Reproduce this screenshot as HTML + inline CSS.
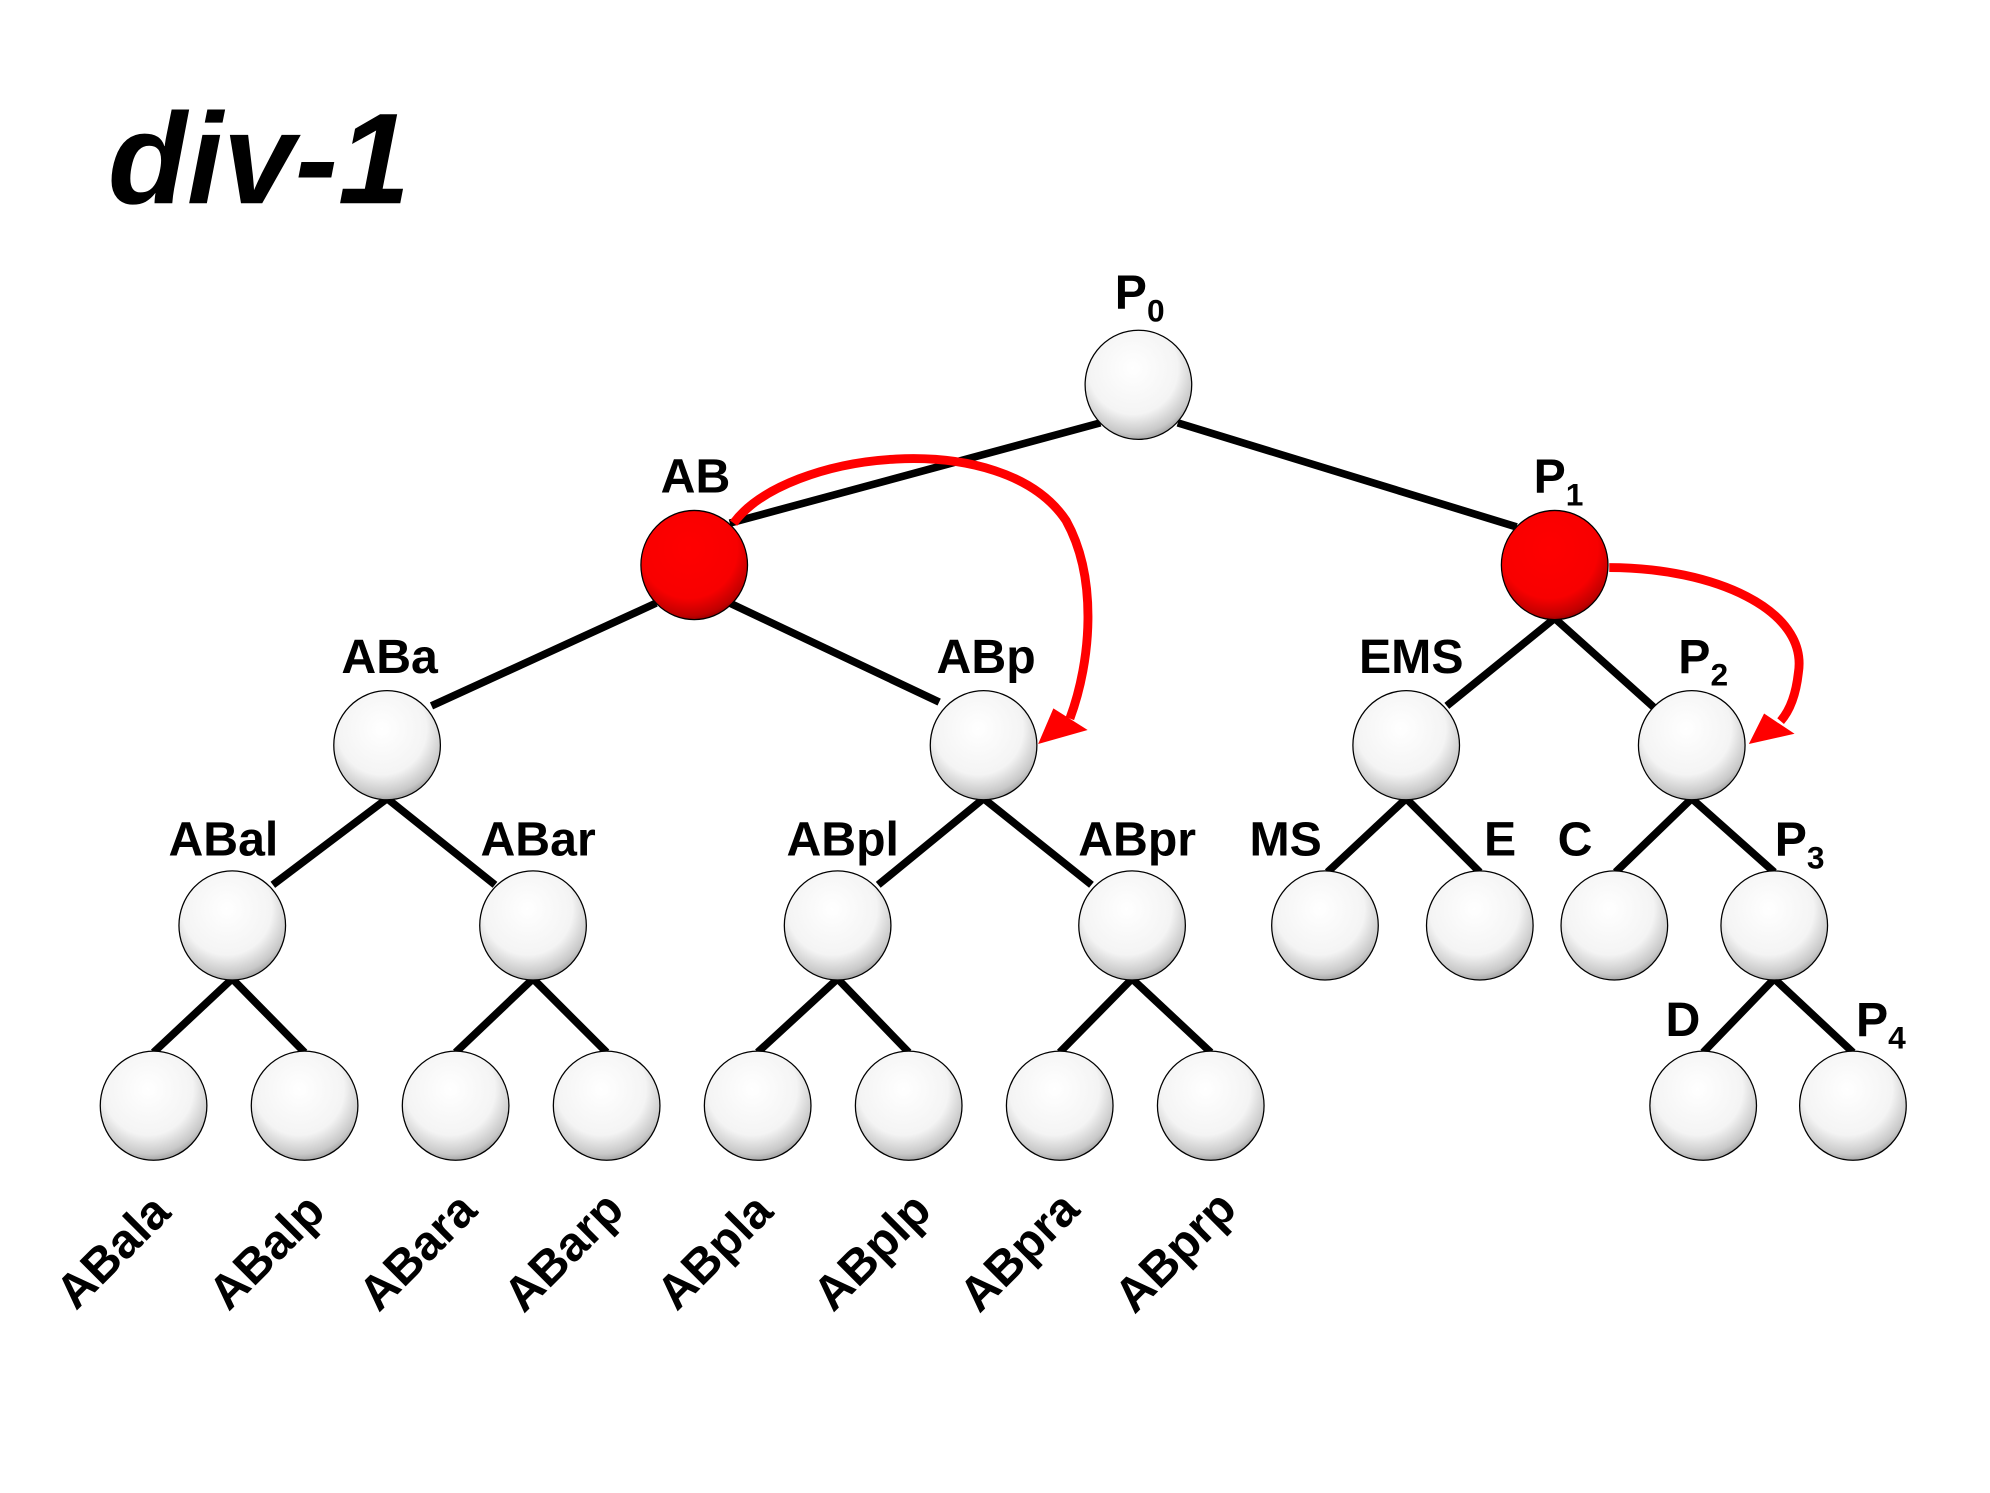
<!DOCTYPE html>
<html><head><style>html,body{margin:0;padding:0;background:#fff}svg{display:block}</style></head>
<body>
<svg width="1990" height="1493" viewBox="0 0 1568 1176" xmlns="http://www.w3.org/2000/svg" font-family="Liberation Sans, Arial, sans-serif" font-weight="bold">
<defs>
<radialGradient id="w" cx="0.45" cy="0.35" r="0.7">
<stop offset="0" stop-color="#ffffff"/><stop offset="0.6" stop-color="#f4f4f4"/><stop offset="0.85" stop-color="#c8c8c8"/><stop offset="1" stop-color="#8a8a8a"/></radialGradient>
<radialGradient id="r" cx="0.45" cy="0.35" r="0.7">
<stop offset="0" stop-color="#ff0000"/><stop offset="0.65" stop-color="#f80000"/><stop offset="0.88" stop-color="#c00000"/><stop offset="1" stop-color="#700000"/></radialGradient>
</defs>
<text x="85" y="160" font-size="102" font-style="italic">div-1</text>
<g stroke="#000" stroke-width="6" fill="none">
<line x1="867" y1="333" x2="575" y2="412"/><line x1="928" y1="333" x2="1195" y2="415"/>
<line x1="517" y1="475" x2="340" y2="556"/><line x1="575" y1="475" x2="740" y2="553"/>
<line x1="1225" y1="487" x2="1140" y2="556"/><line x1="1225" y1="487" x2="1303" y2="557"/>
<line x1="305" y1="629" x2="215" y2="697"/><line x1="305" y1="629" x2="390" y2="697"/>
<line x1="775" y1="629" x2="692" y2="697"/><line x1="775" y1="629" x2="860" y2="697"/>
<line x1="1108" y1="629" x2="1046" y2="687"/><line x1="1108" y1="629" x2="1166" y2="687"/>
<line x1="1333" y1="629" x2="1273" y2="687"/><line x1="1333" y1="629" x2="1398" y2="687"/>
<line x1="183" y1="771" x2="121" y2="829"/><line x1="183" y1="771" x2="240" y2="829"/>
<line x1="420" y1="771" x2="359" y2="829"/><line x1="420" y1="771" x2="478" y2="829"/>
<line x1="660" y1="771" x2="597" y2="829"/><line x1="660" y1="771" x2="716" y2="829"/>
<line x1="892" y1="771" x2="835" y2="829"/><line x1="892" y1="771" x2="954" y2="829"/>
<line x1="1398" y1="771" x2="1342" y2="829"/><line x1="1398" y1="771" x2="1460" y2="829"/>
</g>
<g stroke="#000" stroke-width="1">
<ellipse cx="897" cy="303" rx="42" ry="43" fill="url(#w)"/>
<ellipse cx="547" cy="445" rx="42" ry="43" fill="url(#r)"/>
<ellipse cx="1225" cy="445" rx="42" ry="43" fill="url(#r)"/>
<ellipse cx="305" cy="587" rx="42" ry="43" fill="url(#w)"/>
<ellipse cx="775" cy="587" rx="42" ry="43" fill="url(#w)"/>
<ellipse cx="1108" cy="587" rx="42" ry="43" fill="url(#w)"/>
<ellipse cx="1333" cy="587" rx="42" ry="43" fill="url(#w)"/>
<ellipse cx="183" cy="729" rx="42" ry="43" fill="url(#w)"/>
<ellipse cx="420" cy="729" rx="42" ry="43" fill="url(#w)"/>
<ellipse cx="660" cy="729" rx="42" ry="43" fill="url(#w)"/>
<ellipse cx="892" cy="729" rx="42" ry="43" fill="url(#w)"/>
<ellipse cx="1044" cy="729" rx="42" ry="43" fill="url(#w)"/>
<ellipse cx="1166" cy="729" rx="42" ry="43" fill="url(#w)"/>
<ellipse cx="1272" cy="729" rx="42" ry="43" fill="url(#w)"/>
<ellipse cx="1398" cy="729" rx="42" ry="43" fill="url(#w)"/>
<ellipse cx="121" cy="871" rx="42" ry="43" fill="url(#w)"/>
<ellipse cx="240" cy="871" rx="42" ry="43" fill="url(#w)"/>
<ellipse cx="359" cy="871" rx="42" ry="43" fill="url(#w)"/>
<ellipse cx="478" cy="871" rx="42" ry="43" fill="url(#w)"/>
<ellipse cx="597" cy="871" rx="42" ry="43" fill="url(#w)"/>
<ellipse cx="716" cy="871" rx="42" ry="43" fill="url(#w)"/>
<ellipse cx="835" cy="871" rx="42" ry="43" fill="url(#w)"/>
<ellipse cx="954" cy="871" rx="42" ry="43" fill="url(#w)"/>
<ellipse cx="1342" cy="871" rx="42" ry="43" fill="url(#w)"/>
<ellipse cx="1460" cy="871" rx="42" ry="43" fill="url(#w)"/>
</g>
<g fill="none" stroke="#ff0000" stroke-width="7">
<path d="M578,412 C620,355 790,335 840,410 C865,455 860,520 843,566"/>
<path d="M1268,447 C1350,447 1425,480 1417,530 C1415,548 1410,560 1403,568"/>
</g>
<g fill="#ff0000">
<polygon points="818,586 830,558 857,575"/>
<polygon points="1378,586 1390,562 1414,578"/>
</g>
<g font-size="38" text-anchor="middle">
<text x="898" y="243">P<tspan font-size="25" dy="10">0</tspan></text>
<text x="548" y="388">AB</text>
<text x="1228" y="388">P<tspan font-size="25" dy="10">1</tspan></text>
<text x="307" y="530">ABa</text>
<text x="777" y="530">ABp</text>
<text x="1112" y="530">EMS</text>
<text x="1342" y="530">P<tspan font-size="25" dy="10">2</tspan></text>
<text x="176" y="674">ABal</text>
<text x="424" y="674">ABar</text>
<text x="664" y="674">ABpl</text>
<text x="896" y="674">ABpr</text>
<text x="1013" y="674">MS</text>
<text x="1182" y="674">E</text>
<text x="1241" y="674">C</text>
<text x="1418" y="674">P<tspan font-size="25" dy="10">3</tspan></text>
<text x="1326" y="816">D</text>
<text x="1482" y="816">P<tspan font-size="25" dy="10">4</tspan></text>
</g>
<g font-size="38" text-anchor="middle">
<text transform="translate(98,995) rotate(-45)">ABala</text>
<text transform="translate(219,995) rotate(-45)">ABalp</text>
<text transform="translate(338,995) rotate(-45)">ABara</text>
<text transform="translate(453,995) rotate(-45)">ABarp</text>
<text transform="translate(572,995) rotate(-45)">ABpla</text>
<text transform="translate(696,995) rotate(-45)">ABplp</text>
<text transform="translate(812,995) rotate(-45)">ABpra</text>
<text transform="translate(935,995) rotate(-45)">ABprp</text>
</g>
</svg>
</body></html>
